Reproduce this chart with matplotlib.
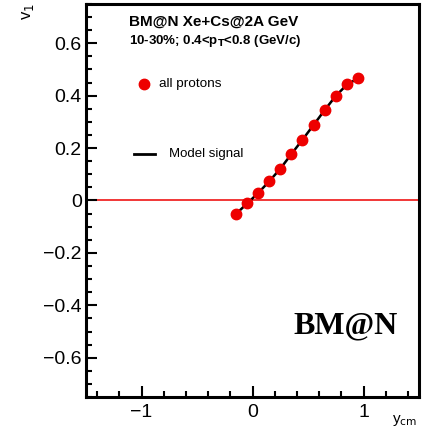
import matplotlib
matplotlib.use("Agg")
import matplotlib.pyplot as plt
from matplotlib.ticker import MultipleLocator

y_cm = [-0.15, -0.05, 0.05, 0.15, 0.25, 0.35, 0.45, 0.55, 0.65, 0.75, 0.85, 0.95]
v1_protons = [-0.050, -0.011, 0.029, 0.074, 0.122, 0.178, 0.232, 0.288, 0.346, 0.400, 0.443, 0.467]
v1_model = [-0.052, -0.012, 0.028, 0.073, 0.121, 0.177, 0.232, 0.288, 0.345, 0.399, 0.442, 0.466]

plt.rcParams['font.family'] = ['Liberation Sans', 'DejaVu Sans']

fig = plt.figure(figsize=(4.26, 4.33), dpi=100)
W, H = 426, 433
ax = fig.add_axes([86 / W, 1 - 397 / H, (419 - 86) / W, (397 - 4) / H])

ax.axhline(0, color='#ee0000', lw=1.1, zorder=1)
ax.plot(y_cm, v1_model, color='black', lw=1.8, zorder=2)
ax.plot(y_cm, v1_protons, 'o', color='#ee0000', ms=7.5, mec='#ee0000', zorder=3, linestyle='none')

ax.set_xlim(-1.5, 1.5)
ax.set_ylim(-0.75, 0.75)
ax.xaxis.set_major_locator(MultipleLocator(1))
ax.xaxis.set_minor_locator(MultipleLocator(0.2))
ax.yaxis.set_major_locator(MultipleLocator(0.2))
ax.yaxis.set_minor_locator(MultipleLocator(0.05))
ax.tick_params(which='both', direction='in', top=False, right=False, width=1.5, labelsize=14, colors='black')
ax.tick_params(which='major', length=8)
ax.tick_params(which='minor', length=4.5)
ax.tick_params(axis='y', pad=3)
ax.tick_params(axis='x', pad=5)
for s in ax.spines.values():
    s.set_linewidth(2.2)

ax.set_yticks([-0.6, -0.4, -0.2, 0, 0.2, 0.4, 0.6])
ax.set_yticklabels(['\u22120.6', '\u22120.4', '\u22120.2', '0', '0.2', '0.4', '0.6'])
ax.set_xticks([-1, 0, 1])
ax.set_xticklabels(['\u22121', '0', '1'])

fig.text(28 / W, 1 - 12 / H, r'v$_1$', rotation=90, fontsize=12, ha='center', va='center')
fig.text(405 / W, 1 - 421 / H, r'y$_{\rm cm}$', fontsize=11, ha='center', va='center')

ax.text(0.13, 0.954, 'BM@N Xe+Cs@2A GeV', transform=ax.transAxes,
        fontsize=11, fontweight='bold', ha='left', va='center')
ax.text(0.13, 0.905, r'10-30%; 0.4<p$_{\mathbf{T}}$<0.8 (GeV/c)', transform=ax.transAxes,
        fontsize=9.5, fontweight='bold', ha='left', va='center')

# legend entries
ax.plot([-0.98], [0.446], 'o', color='#ee0000', ms=7.5)
ax.text(-0.84, 0.446, 'all protons', fontsize=9.7, ha='left', va='center')
ax.plot([-1.07, -0.875], [0.179, 0.179], color='black', lw=2.0)
ax.text(-0.75, 0.179, 'Model signal', fontsize=9.5, ha='left', va='center')

ax.text(0.84, -0.48, 'BM@N', fontsize=23, fontweight='bold', family='Liberation Serif',
        ha='center', va='center')

fig.savefig('out.png', dpi=100)
